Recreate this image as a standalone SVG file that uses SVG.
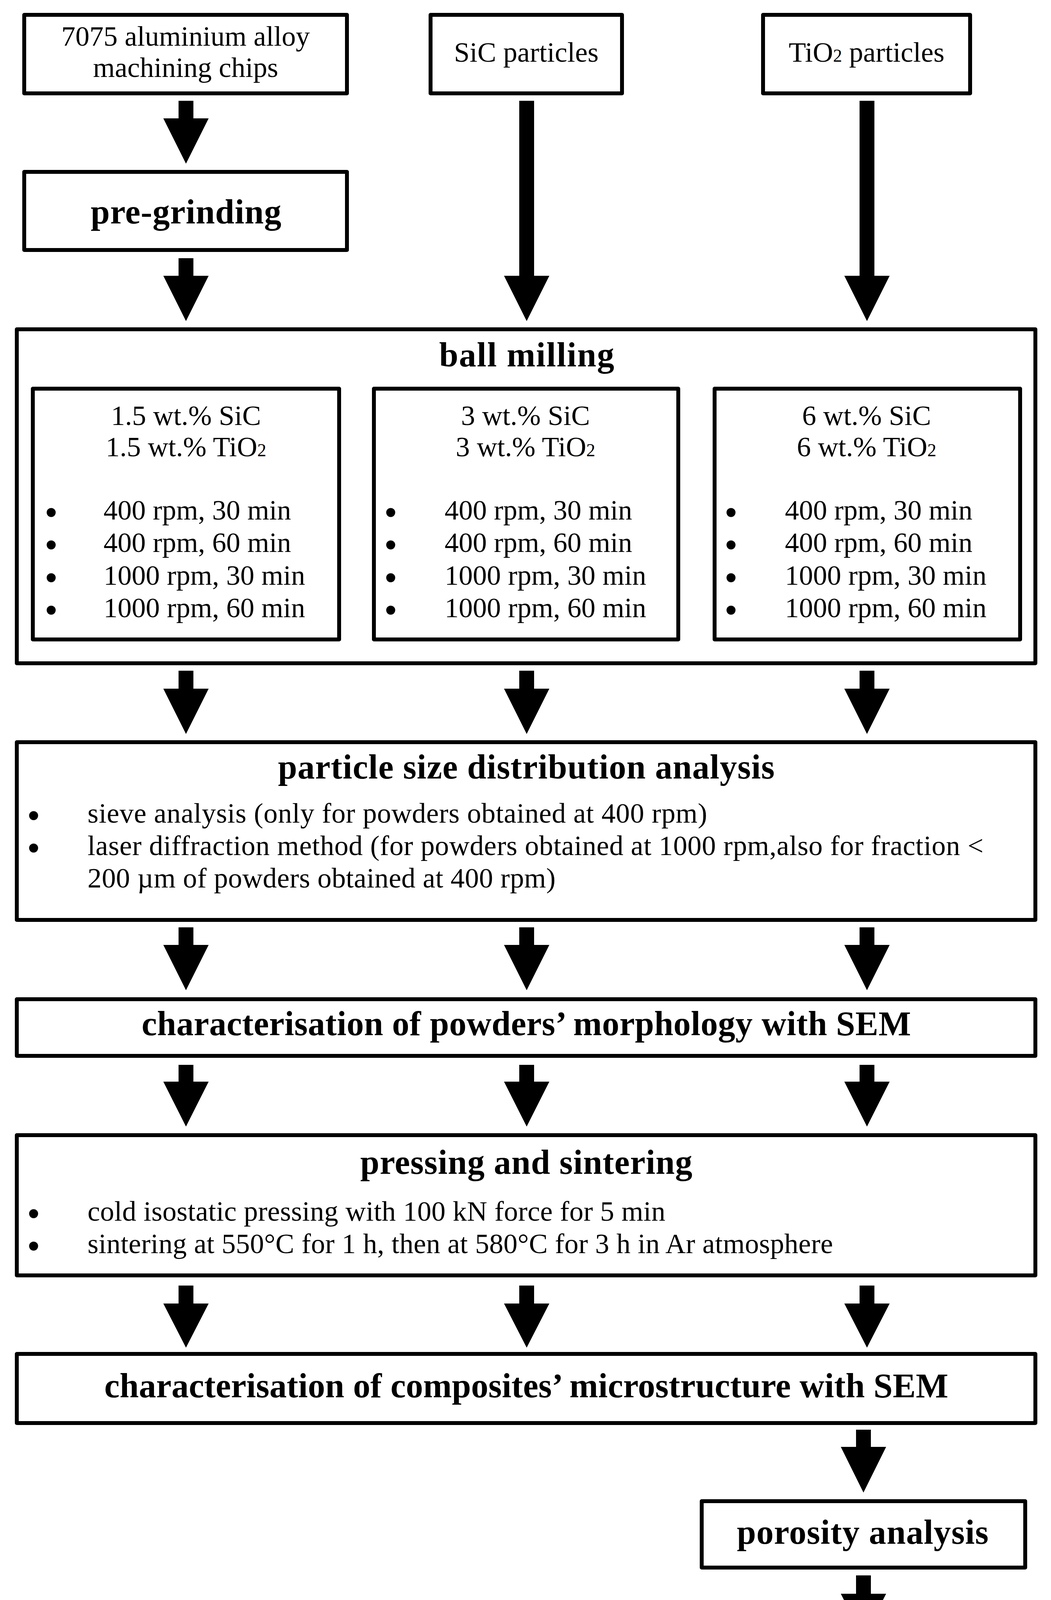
<svg xmlns="http://www.w3.org/2000/svg" width="2690" height="5373" viewBox="0 0 2690 5373">
<style>
.box{fill:#fff;stroke:#000;stroke-width:10;stroke-linejoin:round}
.t{font-family:"Liberation Serif","Times New Roman",serif;font-size:72px;fill:#000}
.b{font-family:"Liberation Serif","Times New Roman",serif;font-size:88px;font-weight:bold;fill:#000}
.m{text-anchor:middle}
.arr{fill:#000}
.dot{fill:#000}
</style>
<rect width="2690" height="5373" fill="#fff"/>

<g id="connectors">
<polygon class="arr" points="457,258 495,258 495,303 534,303 476,419 418,303 457,303"/>
<polygon class="arr" points="1329,258 1367,258 1367,706 1406,706 1348,822 1290,706 1329,706"/>
<polygon class="arr" points="2200,258 2238,258 2238,706 2277,706 2219,822 2161,706 2200,706"/>
<polygon class="arr" points="457,661 495,661 495,706 534,706 476,822 418,706 457,706"/>

<polygon class="arr" points="457,1717 495,1717 495,1763 534,1763 476,1879 418,1763 457,1763"/>
<polygon class="arr" points="1329,1717 1367,1717 1367,1763 1406,1763 1348,1879 1290,1763 1329,1763"/>
<polygon class="arr" points="2200,1717 2238,1717 2238,1763 2277,1763 2219,1879 2161,1763 2200,1763"/>

<polygon class="arr" points="457,2374 495,2374 495,2419 534,2419 476,2535 418,2419 457,2419"/>
<polygon class="arr" points="1329,2374 1367,2374 1367,2419 1406,2419 1348,2535 1290,2419 1329,2419"/>
<polygon class="arr" points="2200,2374 2238,2374 2238,2419 2277,2419 2219,2535 2161,2419 2200,2419"/>

<polygon class="arr" points="457,2726 495,2726 495,2769 534,2769 476,2884 418,2769 457,2769"/>
<polygon class="arr" points="1329,2726 1367,2726 1367,2769 1406,2769 1348,2884 1290,2769 1329,2769"/>
<polygon class="arr" points="2200,2726 2238,2726 2238,2769 2277,2769 2219,2884 2161,2769 2200,2769"/>

<polygon class="arr" points="457,3291 495,3291 495,3337 534,3337 476,3450 418,3337 457,3337"/>
<polygon class="arr" points="1329,3291 1367,3291 1367,3337 1406,3337 1348,3450 1290,3337 1329,3337"/>
<polygon class="arr" points="2200,3291 2238,3291 2238,3337 2277,3337 2219,3450 2161,3337 2200,3337"/>

<polygon class="arr" points="2191,3660 2229,3660 2229,3704 2268,3704 2210,3821 2152,3704 2191,3704"/>
<polygon class="arr" points="2191,4033 2229,4033 2229,4080 2268,4080 2210,4194 2152,4080 2191,4080"/>
</g>

<g id="node-chips">
<rect class="box" x="62" y="38" width="826" height="201"/>
<text class="t m" x="475" y="117">7075 aluminium alloy</text>
<text class="t m" x="475" y="197">machining chips</text>
</g>

<g id="node-sic">
<rect class="box" x="1102" y="38" width="490" height="201"/>
<text class="t m" x="1347" y="158">SiC particles</text>
</g>

<g id="node-tio2">
<rect class="box" x="1953" y="38" width="530" height="201"/>
<text class="t m" x="2218" y="158">TiO<tspan font-size="46">2</tspan> particles</text>
</g>

<g id="node-pregrinding">
<rect class="box" x="62" y="440" width="826" height="200"/>
<text class="b m" x="476" y="572" textLength="488">pre-grinding</text>
</g>

<g id="node-ballmilling">
<rect class="box" x="43" y="843" width="2607" height="855"/>
<text class="b m" x="1348" y="938" textLength="448">ball milling</text>
</g>

<g id="node-mix-1-5">
<rect class="box" x="84" y="995" width="784" height="642"/>
<text class="t m" x="476" y="1088">1.5 wt.% SiC</text>
<text class="t m" x="476" y="1168">1.5 wt.% TiO<tspan font-size="46">2</tspan></text>
<circle class="dot" cx="131" cy="1312" r="11.5"/>
<circle class="dot" cx="131" cy="1395" r="11.5"/>
<circle class="dot" cx="131" cy="1479" r="11.5"/>
<circle class="dot" cx="131" cy="1562" r="11.5"/>
<text class="t" x="265" y="1330">400 rpm, 30 min</text>
<text class="t" x="265" y="1413">400 rpm, 60 min</text>
<text class="t" x="265" y="1497">1000 rpm, 30 min</text>
<text class="t" x="265" y="1580">1000 rpm, 60 min</text>
</g>

<g id="node-mix-3">
<rect class="box" x="957" y="995" width="779" height="642"/>
<text class="t m" x="1345" y="1088">3 wt.% SiC</text>
<text class="t m" x="1345" y="1168">3 wt.% TiO<tspan font-size="46">2</tspan></text>
<circle class="dot" cx="1000" cy="1312" r="11.5"/>
<circle class="dot" cx="1000" cy="1395" r="11.5"/>
<circle class="dot" cx="1000" cy="1479" r="11.5"/>
<circle class="dot" cx="1000" cy="1562" r="11.5"/>
<text class="t" x="1138" y="1330">400 rpm, 30 min</text>
<text class="t" x="1138" y="1413">400 rpm, 60 min</text>
<text class="t" x="1138" y="1497">1000 rpm, 30 min</text>
<text class="t" x="1138" y="1580">1000 rpm, 60 min</text>
</g>

<g id="node-mix-6">
<rect class="box" x="1829" y="995" width="782" height="642"/>
<text class="t m" x="2218" y="1088">6 wt.% SiC</text>
<text class="t m" x="2218" y="1168">6 wt.% TiO<tspan font-size="46">2</tspan></text>
<circle class="dot" cx="1871" cy="1312" r="11.5"/>
<circle class="dot" cx="1871" cy="1395" r="11.5"/>
<circle class="dot" cx="1871" cy="1479" r="11.5"/>
<circle class="dot" cx="1871" cy="1562" r="11.5"/>
<text class="t" x="2009" y="1330">400 rpm, 30 min</text>
<text class="t" x="2009" y="1413">400 rpm, 60 min</text>
<text class="t" x="2009" y="1497">1000 rpm, 30 min</text>
<text class="t" x="2009" y="1580">1000 rpm, 60 min</text>
</g>

<g id="node-psd">
<rect class="box" x="43" y="1900" width="2607" height="455"/>
<text class="b m" x="1347" y="1993" textLength="1271">particle size distribution analysis</text>
<circle class="dot" cx="86" cy="2088" r="11.5"/>
<circle class="dot" cx="86" cy="2171" r="11.5"/>
<text class="t" x="224" y="2106" textLength="1586">sieve analysis (only for powders obtained at 400 rpm)</text>
<text class="t" x="224" y="2189" textLength="2293">laser diffraction method (for powders obtained at 1000 rpm,also for fraction &lt;</text>
<text class="t" x="224" y="2272" textLength="1198">200 µm of powders obtained at 400 rpm)</text>
</g>

<g id="node-sem-powders">
<rect class="box" x="43" y="2558" width="2607" height="145"/>
<text class="b m" x="1347" y="2650" textLength="1969">characterisation of powders’ morphology with SEM</text>
</g>

<g id="node-pressing">
<rect class="box" x="43" y="2906" width="2607" height="359"/>
<text class="b m" x="1347" y="3005" textLength="850">pressing and sintering</text>
<circle class="dot" cx="86" cy="3107" r="11.5"/>
<circle class="dot" cx="86" cy="3190" r="11.5"/>
<text class="t" x="224" y="3125" textLength="1479">cold isostatic pressing with 100 kN force for 5 min</text>
<text class="t" x="224" y="3208" textLength="1908">sintering at 550°C for 1 h, then at 580°C for 3 h in Ar atmosphere</text>
</g>

<g id="node-sem-composites">
<rect class="box" x="43" y="3466" width="2607" height="177"/>
<text class="b m" x="1347" y="3577" textLength="2160">characterisation of composites’ microstructure with SEM</text>
</g>

<g id="node-porosity">
<rect class="box" x="1796" y="3843" width="828" height="170"/>
<text class="b m" x="2208" y="3952" textLength="644">porosity analysis</text>
</g>

<g id="node-corrosion">
<rect class="box" x="1796" y="4217" width="828" height="1118"/>
<text class="b m" x="2208" y="4313" textLength="547">corrosion tests</text>
<circle class="dot" cx="1849" cy="4407" r="11.5"/>
<circle class="dot" cx="1849" cy="4651" r="11.5"/>
<circle class="dot" cx="1849" cy="4895" r="11.5"/>
<circle class="dot" cx="1849" cy="5140" r="11.5"/>
<text class="t" x="1989" y="4425">open circuit</text>
<text class="t" x="1989" y="4506">potential</text>
<text class="t" x="1989" y="4588">measurements</text>
<text class="t" x="1989" y="4669">electrochemical</text>
<text class="t" x="1989" y="4751">impedance</text>
<text class="t" x="1989" y="4832">spectroscopy</text>
<text class="t" x="1989" y="4913">cyclic voltammetry</text>
<text class="t" x="1989" y="4995">in the vicinity of the</text>
<text class="t" x="1989" y="5076">corrosion potential</text>
<text class="t" x="1989" y="5158">cyclic anodic</text>
<text class="t" x="1989" y="5239">polarisation</text>
</g>
</svg>
